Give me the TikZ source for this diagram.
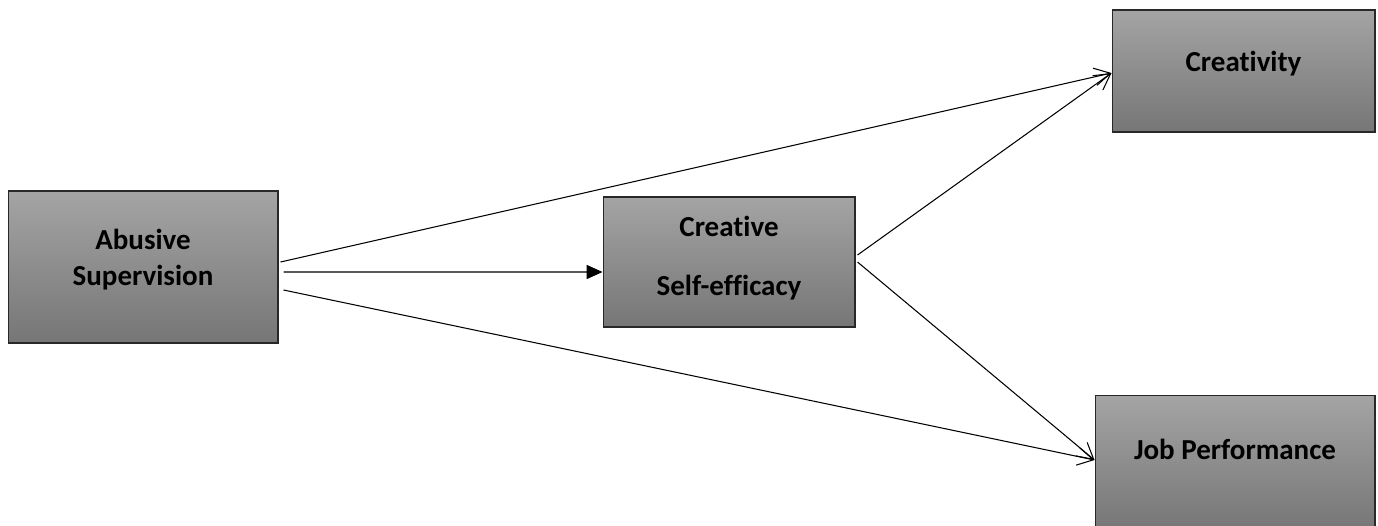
\documentclass[tikz,border=0pt]{standalone}
\usepackage{fontspec}
\setmainfont{Carlito}[Ligatures=NoCommon]
\usetikzlibrary{arrows.meta}

\definecolor{boxtop}{RGB}{164,164,164}
\definecolor{boxbottom}{RGB}{118,118,118}
\definecolor{boxline}{RGB}{40,40,40}

\tikzset{
  varbox/.style={rectangle, draw=boxline, line width=0.6pt, top color=boxtop, bottom color=boxbottom,
    align=center, font=\fontsize{16.5}{21}\selectfont\bfseries, inner sep=0pt},
  link/.style={line width=0.6pt, -{Straight Barb[length=9pt, width=10pt]}},
}

\begin{document}
\begin{tikzpicture}[x=0.02cm, y=-0.02cm]
			\useasboundingbox (0,0) rectangle (1378,525);
			% Nodes
			\node[varbox, minimum width=5.4cm, minimum height=3.04cm, text depth=11pt] (abuse) at (143,267) {Abusive\\Supervision};
			\node[varbox, minimum width=5.04cm, minimum height=2.6cm, text depth=7.5pt] (cse) at (729,262) {Creative\\[12.6pt]Self-efficacy};
			\node[varbox, minimum width=5.26cm, minimum height=2.44cm, text height=12pt, text depth=12pt] (creat) at (1243.5,71) {Creativity};
			\node[varbox, minimum width=5.6cm, minimum height=2.7cm, text height=12pt, text depth=16.5pt] (job) at (1235,463) {Job Performance};
			
			% Edges
			\path[link] ([shift={(0.04cm,0.1cm)}]abuse.east) edge ([yshift=-0.04cm]creat.west);
			\path[line width=0.6pt, -{Triangle[length=9pt, width=8pt]}] ([shift={(0.1cm,-0.1cm)}]abuse.east) edge ([yshift=-0.2cm]cse.west);
			\path[link] ([shift={(0.1cm,-0.46cm)}]abuse.east) edge ([yshift=0.06cm]job.west);
			\path[link] ([shift={(0.04cm,0.14cm)}]cse.east) edge ([yshift=-0.04cm]creat.west);
			\path[link] ([shift={(0.04cm,0cm)}]cse.east) edge ([yshift=0.06cm]job.west);
		\end{tikzpicture}
\end{document}
